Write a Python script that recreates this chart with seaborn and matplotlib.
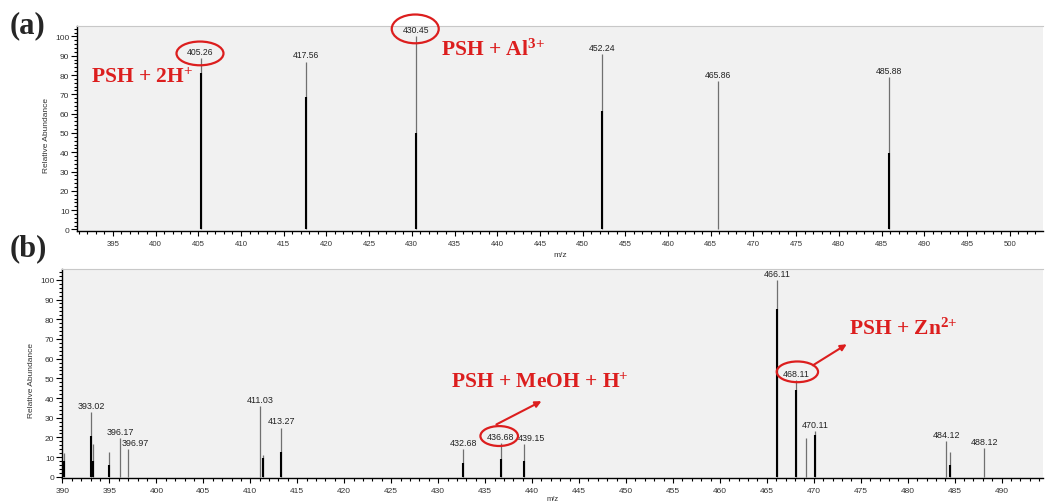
import matplotlib
matplotlib.use("Agg")
import matplotlib.pyplot as plt
import seaborn as sns
import pandas as pd
from matplotlib.patches import Ellipse
from matplotlib.ticker import MultipleLocator
from matplotlib.transforms import offset_copy

# ---- spectrum (a) ----
mz_a = [405.26, 417.56, 430.45, 452.24, 465.86, 485.88]
abund_a = [89, 87, 100, 91, 77, 79]
core_a = [81, 68.5, 50, 61.5, 0, 39.5]
labels_a = ["405.26", "417.56", "430.45", "452.24", "465.86", "485.88"]

# ---- spectrum (b) ----
mz_b = [390.14, 393.02, 393.26, 395.00, 396.17, 396.97, 411.03, 411.40, 413.27,
        432.68, 436.68, 439.15, 466.11, 468.11, 469.15, 470.11, 484.12, 484.55, 488.12]
abund_b = [12, 33, 16.7, 12.6, 19.7, 14, 35.7, 11, 25,
           14.3, 17.2, 16.8, 100, 49, 19.7, 23.4, 18, 12.6, 14.6]
core_b = [8, 20.7, 8, 6, 0, 0, 0, 9.3, 12.6,
          7, 8.8, 8.2, 85.3, 44, 0, 21.4, 0, 6, 0]
labels_b = ["", "393.02", "", "", "396.17", "396.97", "411.03", "", "413.27",
            "432.68", "436.68", "439.15", "466.11", "468.11", "", "470.11", "484.12", "", "488.12"]

RED = "#dc1e1e"
BG = "#f1f1f1"

sns.set_style("ticks")
plt.rcParams["font.family"] = ["Liberation Sans", "DejaVu Sans"]
plt.rcParams["mathtext.fontset"] = "custom"
plt.rcParams["mathtext.rm"] = "Liberation Serif:bold"
plt.rcParams["mathtext.bf"] = "Liberation Serif:bold"
plt.rcParams["mathtext.default"] = "bf"

W, H = 1046, 502
fig = plt.figure(figsize=(W / 100, H / 100), dpi=100)
fig.patch.set_facecolor("white")


def px_axes(left, top, right, bottom):
    return fig.add_axes([left / W, 1 - bottom / H, (right - left) / W, (bottom - top) / H])


def style_axes(ax, xlim, ylim, xfs):
    ax.set_facecolor(BG)
    ax.set_xlim(*xlim)
    ax.set_ylim(*ylim)
    ax.xaxis.set_major_locator(MultipleLocator(5))
    ax.xaxis.set_minor_locator(MultipleLocator(1))
    ax.yaxis.set_major_locator(MultipleLocator(10))
    ax.yaxis.set_minor_locator(MultipleLocator(2))
    for s in ("left", "bottom"):
        ax.spines[s].set_color("black")
        ax.spines[s].set_linewidth(1.0)
    ax.spines["top"].set_visible(True)
    ax.spines["top"].set_color("#c8c8c8")
    ax.spines["top"].set_linewidth(0.8)
    ax.spines["right"].set_visible(False)
    ax.tick_params(axis="both", which="both", direction="out", color="black", width=0.8,
                   top=False, right=False)
    ax.tick_params(axis="y", which="major", length=4.5, labelsize=6, labelcolor="#333333", pad=1)
    ax.tick_params(axis="y", which="minor", length=2.2)
    ax.tick_params(axis="x", which="major", length=3.5, labelsize=xfs, labelcolor="#333333", pad=3)
    ax.tick_params(axis="x", which="minor", length=2.2)
    ax.grid(False)


def draw_peaks(ax, mz, abund, core, labels, fs, nudge):
    df = pd.DataFrame({"mz": mz, "abund": abund, "core": core, "label": labels})
    # profile trace (grey) and centroid stick (black)
    ax.vlines(df["mz"], 0, df["abund"], color="#707070", lw=0.9, zorder=2)
    c = df[df["core"] > 0]
    ax.vlines(c["mz"], 0, c["core"], color="black", lw=1.5, zorder=3)
    for _, r in df.iterrows():
        if r["label"]:
            dx = nudge.get(r["label"], 0)
            tr = offset_copy(ax.transData, fig=fig, x=dx, y=1.5, units="points")
            ax.text(r["mz"], r["abund"], r["label"], transform=tr, ha="center", va="bottom",
                    fontsize=fs, color="#222222", clip_on=False, zorder=4)


def red_label(ax, x, y, s):
    ax.text(x, y, s, color=RED, fontsize=15.5, fontweight="bold", family="Liberation Serif",
            va="baseline", ha="left", zorder=5)


# ---------------- panel (a) ----------------
ax1 = px_axes(77, 27, 1043, 232)
style_axes(ax1, (390.8, 503.9), (-0.8, 105.4), 5.6)
draw_peaks(ax1, mz_a, abund_a, core_a, labels_a, 6.2, {})
ax1.set_xlabel("m/z", fontsize=6, color="#333333", labelpad=3)
ax1.set_ylabel("Relative Abundance", fontsize=6, color="#333333")
ax1.yaxis.set_label_coords(-0.028, 0.47)

red_label(ax1, 392.4, 76.6, r"PSH + 2H$^{{+}}$")
red_label(ax1, 433.4, 90.5, r"PSH + Al$^{3{+}}$")
ax1.add_patch(Ellipse((405.2, 91.2), 5.5, 12.3, fill=False, ec=RED, lw=1.6, clip_on=False, zorder=5))
ax1.add_patch(Ellipse((430.4, 103.9), 5.5, 14.9, fill=False, ec=RED, lw=1.6, clip_on=False, zorder=5))

# ---------------- panel (b) ----------------
ax2 = px_axes(62, 270, 1043, 479)
style_axes(ax2, (389.95, 494.4), (-0.6, 105.5), 6)
draw_peaks(ax2, mz_b, abund_b, core_b, labels_b, 6.4, {"396.97": 5.5, "439.15": 5.0})
ax2.set_xlabel("m/z", fontsize=5.5, color="#333333", labelpad=0.5)
ax2.set_ylabel("Relative Abundance", fontsize=6, color="#333333")
ax2.yaxis.set_label_coords(-0.0275, 0.47)

red_label(ax2, 431.4, 45.6, r"PSH + MeOH + H$^{{+}}$")
red_label(ax2, 473.7, 72.4, r"PSH + Zn$^{2{+}}$")
ax2.add_patch(Ellipse((436.5, 20.7), 4.0, 10.1, fill=False, ec=RED, lw=1.6, clip_on=False, zorder=5))
ax2.add_patch(Ellipse((468.25, 53.3), 4.4, 10.5, fill=False, ec=RED, lw=1.6, clip_on=False, zorder=5))
arrow = dict(arrowstyle="-|>", color=RED, lw=1.5, mutation_scale=9, shrinkA=0, shrinkB=0)
ax2.annotate("", xy=(441.0, 38.4), xytext=(436.2, 26.6), arrowprops=arrow, zorder=5)
ax2.annotate("", xy=(473.5, 67.3), xytext=(469.9, 56.6), arrowprops=arrow, zorder=5)

# panel letters
fig.text(10 / W, 1 - 33 / H, "(a)", fontsize=22, fontweight="bold", family="Liberation Serif",
         va="baseline", ha="left")
fig.text(10 / W, 1 - 256 / H, "(b)", fontsize=22, fontweight="bold", family="Liberation Serif",
         va="baseline", ha="left")

fig.savefig("out.png", dpi=100, facecolor="white")
